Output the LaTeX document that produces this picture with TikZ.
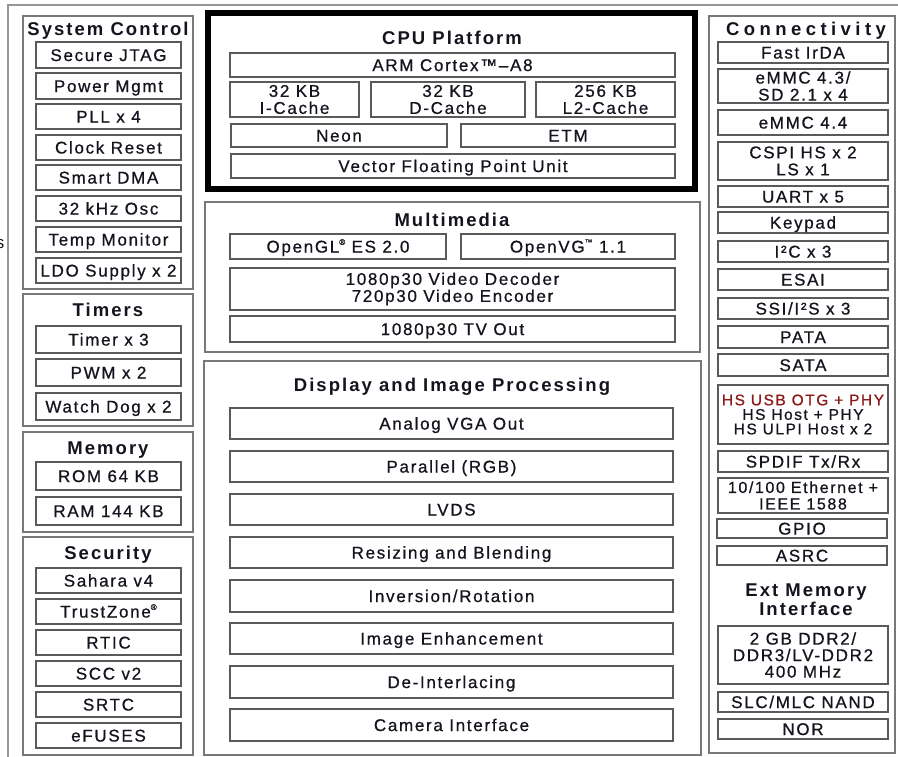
\documentclass[tikz,border=0pt]{standalone}
\usepackage{fontspec}
\setmainfont{Liberation Sans}
\newfontfamily\itemfont{Liberation Sans}[LetterSpace=10, FakeBold=0.7]
\newfontfamily\titlefont{Liberation Sans}[LetterSpace=11]
\newfontfamily\widetitlefont{Liberation Sans}[LetterSpace=24]
\definecolor{itemgray}{RGB}{90,90,90}
\definecolor{groupgray}{RGB}{120,120,120}
\definecolor{framegray}{RGB}{150,150,150}
\definecolor{inkc}{RGB}{20,20,30}
\definecolor{usbred}{RGB}{140,25,25}
\tikzset{
  itembox/.style={draw=itemgray, line width=1.3pt, inner sep=0pt, outer sep=0pt,
    align=center, text=inkc, font=\itemfont\fontsize{17}{17}\selectfont},
  oneline/.style={itembox, text height=12.1pt, text depth=0pt},
  groupbox/.style={draw=groupgray, line width=1.5pt, inner sep=0pt, outer sep=0pt},
  cpubox/.style={draw=black, line width=6pt, inner sep=0pt, outer sep=0pt},
  grouptitle/.style={inner sep=0pt, outer sep=0pt, align=center, text=inkc,
    font=\titlefont\bfseries\fontsize{18.5}{19}\selectfont},
}
% \bx[style]{name}{x1}{y1}{x2}{y2}{text}
\newcommand\bx[7][oneline]{%
  \node[#1, minimum width={(#5-#3)*1pt}, minimum height={(#6-#4)*1pt}]
    (#2) at ({(#3+#5)/2},{(#4+#6)/2}) {#7};}
\newcommand\regmark{\raisebox{0.45em}{\fontsize{8}{8}\selectfont ®}}
\newcommand\tmmark{\raisebox{0.45em}{\fontsize{8}{8}\selectfont ™}}
\begin{document}
\begin{tikzpicture}[x=1pt,y=-1pt]
\useasboundingbox (0,0) rectangle (898,757);
\clip (0,0) rectangle (898,757);
\fill[white] (0,0) rectangle (898,757);
% outer frame (cut by the picture edge)
\draw[framegray, line width=1.8pt] (8,765) -- (8,5) -- (905,5);
\node[anchor=base east, inner sep=0pt, text=inkc, font=\fontsize{17}{17}\selectfont] (stray) at (4.5,248) {s};

% ---------- left column ----------
\bx[groupbox]{gSC}{23}{16}{193}{289}{}
\node[grouptitle, text height=13.2pt, text depth=0pt] (tSC) at (108,29) {System Control};
\bx{jtag}{36}{42}{181}{68}{Secure JTAG}
\bx{pwr}{36}{73}{181}{99}{Power Mgmt}
\bx{pll}{36}{104}{181}{129}{PLL x 4}
\bx{clk}{36}{135}{181}{160}{Clock Reset}
\bx{dma}{36}{165}{181}{190}{Smart DMA}
\bx{osc}{36}{196}{181}{221}{32 kHz Osc}
\bx{temp}{36}{227}{181}{252}{Temp Monitor}
\bx{ldo}{36}{258}{181}{283}{LDO Supply x 2}

\bx[groupbox]{gTim}{23}{294}{193}{426}{}
\node[grouptitle, text height=13.2pt, text depth=0pt] (tTim) at (108,310) {Timers};
\bx{tmr}{36}{326}{181}{353}{Timer x 3}
\bx{pwm}{36}{359}{181}{386}{PWM x 2}
\bx{wdog}{36}{393}{181}{420}{Watch Dog x 2}

\bx[groupbox]{gMem}{23}{432}{193}{532}{}
\node[grouptitle, text height=13.2pt, text depth=0pt] (tMem) at (108,448) {Memory};
\bx{rom}{36}{462}{181}{490}{ROM 64 KB}
\bx{ram}{36}{497}{181}{525}{RAM 144 KB}

\bx[groupbox]{gSec}{23}{537}{193}{755}{}
\node[grouptitle, text height=13.2pt, text depth=0pt] (tSec) at (108,553) {Security};
\bx{sahara}{36}{568}{181}{593}{Sahara v4}
\bx{tz}{36}{599}{181}{624}{TrustZone\regmark}
\bx{rtic}{36}{630}{181}{655}{RTIC}
\bx{scc}{36}{661}{181}{686}{SCC v2}
\bx{srtc}{36}{692}{181}{717}{SRTC}
\bx{efuse}{36}{723}{181}{748}{eFUSES}

% ---------- middle column ----------
\bx[cpubox]{gCPU}{208}{13.5}{695}{189}{}
\node[grouptitle, text height=13.2pt, text depth=0pt] (tCPU) at (452,38) {CPU Platform};
\bx{arm}{230}{53}{675}{77}{ARM Cortex™–A8}
\bx[itembox]{icache}{230}{82}{359}{117}{32 KB\\I-Cache}
\bx[itembox]{dcache}{371}{82}{525}{117}{32 KB\\D-Cache}
\bx[itembox]{l2cache}{536}{82}{675}{117}{256 KB\\L2-Cache}
\bx{neon}{231}{124}{447}{147}{Neon}
\bx{etm}{461}{124}{675}{147}{ETM}
\bx{vfpu}{231}{154}{675}{178}{Vector Floating Point Unit}

\bx[groupbox]{gMM}{205}{202}{700}{352}{}
\node[grouptitle, text height=13.2pt, text depth=0pt] (tMM) at (452,220) {Multimedia};
\bx{ogl}{230}{234}{446}{259}{OpenGL\regmark{} ES 2.0}
\bx{ovg}{461}{234}{675}{259}{OpenVG\tmmark{} 1.1}
\bx[itembox]{video}{230}{268}{675}{310}{1080p30 Video Decoder\\720p30 Video Encoder}
\bx{tv}{230}{316}{675}{342}{1080p30 TV Out}

\bx[groupbox]{gDisp}{204}{361}{701}{755}{}
\node[grouptitle, text height=13.2pt, text depth=0pt] (tDisp) at (452,385) {Display and Image Processing};
\bx{vga}{230}{408}{673}{439}{Analog VGA Out}
\bx{rgb}{230}{451}{673}{482}{Parallel (RGB)}
\bx{lvds}{230}{494}{673}{525}{LVDS}
\bx{resize}{230}{537}{673}{568}{Resizing and Blending}
\bx{inv}{230}{580}{673}{612}{Inversion/Rotation}
\bx{enh}{230}{623}{673}{654}{Image Enhancement}
\bx{deint}{230}{666}{673}{698}{De-Interlacing}
\bx{cam}{230}{709}{673}{741}{Camera Interface}

% ---------- right column ----------
\bx[groupbox]{gCon}{709}{16}{895}{753}{}
\node[grouptitle, text height=13.2pt, text depth=0pt, font=\widetitlefont\bfseries\fontsize{18.5}{19}\selectfont] (tCon) at (806,29) {Connectivity};
\bx{irda}{718}{42}{888}{63}{Fast IrDA}
\bx[itembox]{emmcA}{718}{69}{888}{103}{eMMC 4.3/\\SD 2.1 x 4}
\bx{emmcB}{718}{110}{888}{135}{eMMC 4.4}
\bx[itembox]{cspi}{718}{142}{888}{180}{CSPI HS x 2\\LS x 1}
\bx{uart}{718}{186}{888}{207}{UART x 5}
\bx{keypad}{718}{212}{888}{233}{Keypad}
\bx{iic}{718}{241}{888}{262}{I²C x 3}
\bx{esai}{718}{269}{888}{290}{ESAI}
\bx{ssi}{718}{298}{888}{319}{SSI/I²S x 3}
\bx{pata}{718}{326}{888}{348}{PATA}
\bx{sata}{718}{354}{888}{376}{SATA}
\bx[itembox, font=\itemfont\fontsize{15.5}{14.5}\selectfont]{usb}{718}{385}{888}{444}{\textcolor{usbred}{HS USB OTG + PHY}\\HS Host + PHY\\HS ULPI Host x 2}
\bx{spdif}{718}{451}{888}{472}{SPDIF Tx/Rx}
\bx[itembox, font=\itemfont\fontsize{16}{16.5}\selectfont]{eth}{718}{478}{888}{513}{10/100 Ethernet +\\IEEE 1588}
\bx{gpio}{717}{519}{887}{538}{GPIO}
\bx{asrc}{717}{546}{887}{565}{ASRC}
\node[grouptitle] (tExt) at (806,599.5) {Ext Memory\\Interface};
\bx[itembox, font=\itemfont\fontsize{17}{16.5}\selectfont]{ddr}{718}{626}{888}{684}{2 GB DDR2/\\DDR3/LV-DDR2\\400 MHz}
\bx{nand}{718}{692}{888}{712}{SLC/MLC NAND}
\bx{nor}{718}{719}{888}{739}{NOR}
\end{tikzpicture}
\end{document}
